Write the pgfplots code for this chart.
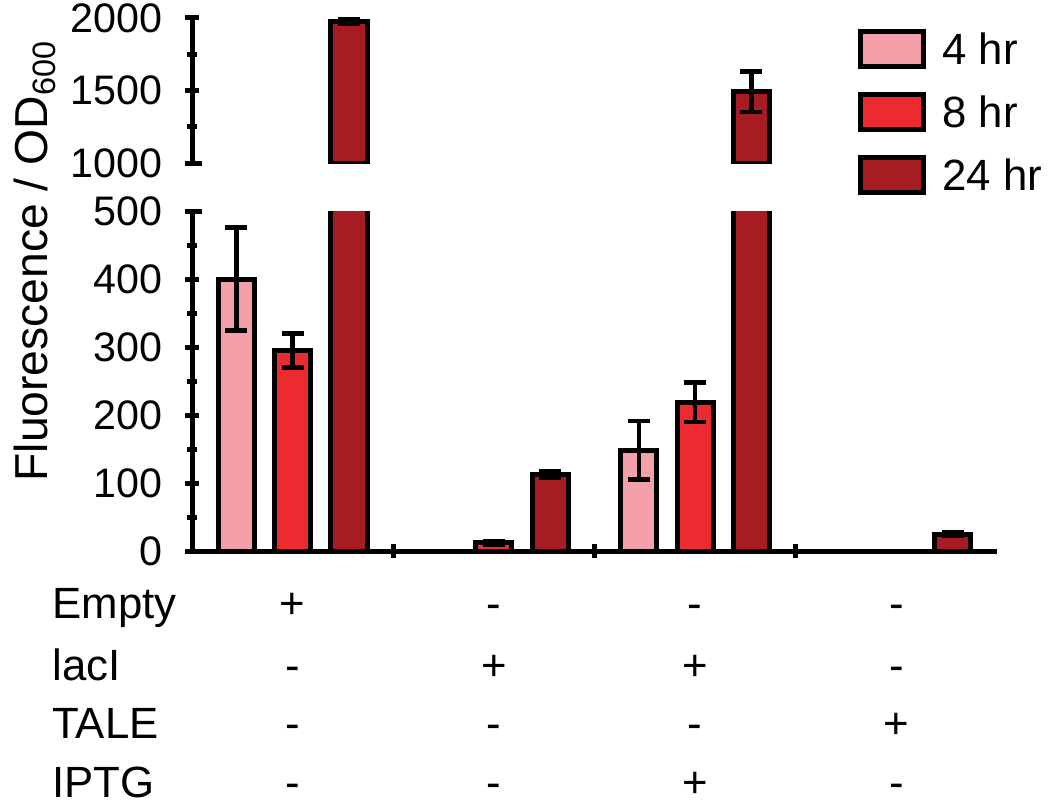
\documentclass[border=0pt]{standalone}
\usepackage{fontspec}
\setmainfont{Liberation Sans}
\usepackage{pgfplots}
\usepackage{pgfplotstable}
\pgfplotsset{compat=1.18}

\definecolor{hrfour}{HTML}{F4A0A8}
\definecolor{hreight}{HTML}{EC2A30}
\definecolor{hrtwentyfour}{HTML}{A61C22}
\newcommand\fs{\fontsize{17.5}{20}\selectfont}
\newcommand\ts{\fontsize{16.5}{19}\selectfont}

% x = group (1..4), y = mean, e = error
\pgfplotstableread{
x y e
1 400 76
3 148 43
}\fourhr
\pgfplotstableread{
x y e
1 295 25
2 12 3
3 219 29
}\eighthr
\pgfplotstableread{
x y e
1 1975 15
2 113 5
3 1490 140
4 25 3
}\twentyfourhr
% the 24 hr values above the break
\pgfplotstableread{
x y e
1 1975 15
3 1490 140
}\twentyfourhrtop

\pgfplotsset{
  brokenbase/.style={
    ybar, bar width=0.18, scale only axis, width=322pt,
    xmin=0.5, xmax=4.5, enlargelimits=false,
    every tick/.style={black, line width=2pt},
    tick align=outside, major tick length=5.6pt, minor tick length=4pt,
    yticklabel style={font=\ts, anchor=east, inner sep=0pt, xshift=-8.8pt},
    /pgf/number format/assume math mode=true,
    /pgf/number format/set thousands separator={},
    minor y tick num=1,
    legend image code/.code={\draw[##1, line width=2pt] (0pt,-6.6pt) rectangle (25.2pt,7.4pt);},
    error bars/y dir=both, error bars/y explicit,
    error bars/error bar style={line width=1.8pt, black},
    error bars/error mark options={line width=1.8pt, black, mark size=4.4pt, rotate=90},
  },
  noarrows/.style={
    axis line style={-, line width=2pt},
    every outer x axis line/.append style={-},
    every outer y axis line/.append style={-},
    every inner x axis line/.append style={-},
    every inner y axis line/.append style={-},
  },
  p4/.style={fill=hrfour, draw=black, line width=2pt, bar shift=-0.28},
  p8/.style={fill=hreight, draw=black, line width=2pt, bar shift=0},
  p24/.style={fill=hrtwentyfour, draw=black, line width=2pt, bar shift=0.28},
}

\begin{document}
\begin{tikzpicture}
\useasboundingbox (-76.8pt,-101.2pt) rectangle (343.2pt,220.4pt);

% lower part 0--500
\begin{axis}[
    brokenbase, name=lo, at={(0,0)}, anchor=south west,
    height=136pt, ymin=0, ymax=500,
    axis x line=bottom, axis y line=left, noarrows,
    clip mode=individual,
    ytick={0,100,...,500},
    xtick={1.5,2.5,3.5}, xticklabels={},
    xtick align=center,
]
\addplot[p4] table[x=x, y=y, y error=e] {\fourhr};
\addplot[p8] table[x=x, y=y, y error=e] {\eighthr};
\addplot[p24] table[x=x, y=y, y error=e] {\twentyfourhr};
\draw[line width=2pt] (rel axis cs:0,1) -- ++(4pt,0pt);
\end{axis}

% upper part 1000--2000
\begin{axis}[
    brokenbase, name=up, at={(0,155.2pt)}, anchor=south west,
    height=58pt, ymin=1000, ymax=2000,
    axis x line=none, axis y line=left, noarrows,
    clip mode=individual,
    ytick={1000,1500,2000},
    legend cell align=left,
    legend style={at={(rel axis cs:0.827,0.937)}, anchor=north west,
        draw=none, fill=none, font=\fs, inner sep=0pt, row sep=7pt,
        nodes={inner sep=2pt},
        /tikz/every odd column/.append style={column sep=4.5pt}},
]
\addlegendimage{p4}
\addlegendimage{p8}
\addplot[p24] table[x=x, y=y, y error=e] {\twentyfourhrtop};
\draw[line width=2pt] (rel axis cs:0,0) -- ++(4pt,0pt);
\legend{4 hr, 8 hr, 24 hr}
\end{axis}

\node[font=\fontsize{18.5}{21}\selectfont, rotate=90] at (-62.8pt,116pt)
    {Fluorescence / OD\textsubscript{600}};
% condition table
\foreach \lab/\dy in {Empty/-26.8, lacI/-51.6, TALE/-74.8, IPTG/-98.6}
  \node[font=\fs, anchor=base west, inner sep=0pt] at (-56pt,\dy pt) {\lab};
\foreach \x/\a/\b/\c/\d in {1/+/-/-/-, 2/-/+/-/-, 3/-/+/-/+, 4/-/-/+/-} {
  \node[font=\fs, anchor=base, inner sep=0pt] at ({(\x-0.5)*80.5pt},-26.8pt) {\a};
  \node[font=\fs, anchor=base, inner sep=0pt] at ({(\x-0.5)*80.5pt},-51.6pt) {\b};
  \node[font=\fs, anchor=base, inner sep=0pt] at ({(\x-0.5)*80.5pt},-74.8pt) {\c};
  \node[font=\fs, anchor=base, inner sep=0pt] at ({(\x-0.5)*80.5pt},-98.6pt) {\d};
}
\end{tikzpicture}
\end{document}
